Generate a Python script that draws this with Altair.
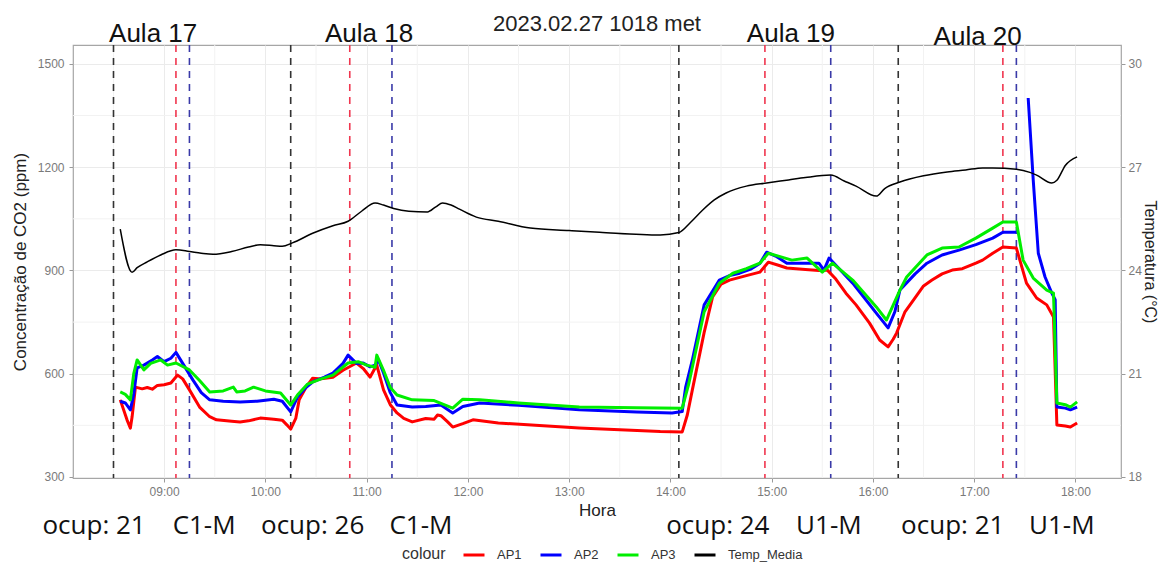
import altair as alt
import pandas as pd

DAY = "2023-02-27"

# ---------------- data ----------------
ap1_time = ["08:34","08:38","08:40","08:41","08:43","08:47","08:50","08:53","08:56","09:00","09:04","09:08","09:11","09:15","09:21","09:27","09:31","09:40","09:45","09:50","09:57","10:05","10:10","10:13","10:15","10:18","10:20","10:24","10:28","10:33","10:40","10:46","10:54","10:58","11:02","11:06","11:10","11:14","11:18","11:22","11:27","11:35","11:40","11:42","11:44","11:48","11:51","11:57","12:03","12:18","12:40","13:06","13:30","13:54","14:07","14:10","14:13","14:20","14:25","14:30","14:35","14:45","14:53","14:58","15:04","15:09","15:20","15:28","15:33","15:38","15:44","15:50","15:58","16:04","16:09","16:12","16:14","16:19","16:24","16:30","16:35","16:41","16:47","16:53","17:01","17:05","17:11","17:17","17:25","17:31","17:37","17:43","17:47","17:49","17:54","17:57","18:01"]
ap1_ppm = [524,466,442,474,561,556,560,555,566,568,573,596,585,553,503,475,466,462,460,463,471,468,465,450,439,470,524,560,587,585,590,610,631,615,590,625,553,510,486,470,460,470,468,480,478,460,445,455,466,457,450,442,437,432,431,480,553,720,823,860,872,885,895,924,915,907,903,900,901,875,834,800,747,698,678,700,718,780,814,855,872,890,901,905,921,930,950,968,965,863,820,800,765,451,448,445,457]

ap2_time = ["08:34","08:37","08:40","08:42","08:44","08:48","08:53","08:56","09:00","09:04","09:07","09:11","09:17","09:22","09:27","09:35","09:45","09:55","10:05","10:10","10:15","10:19","10:24","10:28","10:35","10:40","10:46","10:49","10:54","10:58","11:02","11:05","11:07","11:10","11:14","11:18","11:27","11:35","11:44","11:51","11:57","12:07","12:30","13:06","13:40","14:01","14:07","14:09","14:13","14:20","14:29","14:35","14:41","14:48","14:53","14:57","15:03","15:09","15:20","15:28","15:31","15:34","15:40","15:48","15:55","16:02","16:09","16:13","16:16","16:25","16:32","16:41","16:51","17:01","17:11","17:17","17:25"]
ap2_ppm = [520,515,495,540,617,625,640,650,635,645,662,630,582,545,524,520,518,520,526,520,489,532,560,576,590,602,630,654,630,631,620,625,640,602,545,509,503,505,509,486,505,515,508,495,489,486,490,560,640,800,872,885,892,905,920,953,940,921,921,921,901,936,905,863,820,776,733,780,843,890,921,945,959,975,994,1011,1011]
# AP2 restarts after a gap at 17:32
ap2b_time = ["17:32","17:35","17:38","17:42","17:46","17:48","17:49","17:54","17:57","18:01"]
ap2b_ppm = [1401,1162,950,881,834,815,503,500,495,503]

ap3_time = ["08:34","08:37","08:40","08:42","08:44","08:48","08:52","08:58","09:02","09:07","09:15","09:21","09:27","09:35","09:41","09:43","09:48","09:53","10:00","10:09","10:15","10:19","10:25","10:33","10:40","10:49","10:55","11:00","11:05","11:06","11:10","11:14","11:18","11:27","11:40","11:51","11:57","12:07","12:30","13:06","13:40","14:07","14:11","14:20","14:29","14:37","14:45","14:53","14:58","15:05","15:12","15:21","15:30","15:36","15:48","16:02","16:08","16:16","16:20","16:32","16:41","16:51","17:01","17:11","17:17","17:25","17:29","17:35","17:43","17:47","17:49","17:54","17:57","18:01"]
ap3_ppm = [547,540,524,600,640,611,630,640,625,631,611,580,547,550,561,547,550,561,550,544,509,538,570,585,596,631,635,625,619,654,610,560,538,524,522,500,526,524,515,503,501,500,573,780,863,892,905,921,950,940,930,936,895,921,872,794,756,843,881,945,965,968,994,1023,1041,1041,930,878,843,834,515,510,503,518]

temp_time = ["08:34","08:41","08:44","08:50","08:58","09:07","09:15","09:22","09:29","09:40","09:50","09:57","10:05","10:10","10:16","10:28","10:40","10:49","10:57","11:05","11:10","11:16","11:25","11:36","11:41","11:45","11:50","11:55","12:05","12:18","12:37","13:00","13:18","13:54","14:05","14:12","14:19","14:26","14:33","14:45","14:57","15:10","15:20","15:35","15:43","15:50","16:02","16:07","16:16","16:30","16:44","16:55","17:05","17:11","17:25","17:33","17:37","17:46","17:49","17:54","18:01"]
temp_c = [25.2,23.95,24.08,24.25,24.45,24.6,24.55,24.5,24.47,24.55,24.68,24.75,24.72,24.7,24.8,25.08,25.3,25.43,25.72,25.96,25.9,25.8,25.72,25.7,25.85,25.96,25.9,25.78,25.55,25.43,25.23,25.16,25.11,25.03,25.1,25.4,25.75,26.05,26.25,26.45,26.54,26.63,26.7,26.77,26.6,26.45,26.16,26.38,26.57,26.75,26.86,26.92,26.98,26.98,26.94,26.85,26.77,26.54,26.62,27.05,27.3]

series_names = ["AP1", "AP2", "AP3", "Temp_Media"]
series_colors = ["#FF0000", "#0000FF", "#00EE00", "#000000"]
legend_title = "colour"

start_times = ["08:30", "10:15", "14:05", "16:15"]   # black dashed
peak_times = ["09:07", "10:50", "14:56", "17:17"]    # red dashed
end_times = ["09:15", "11:15", "15:35", "17:25"]     # blue dashed

aula_labels = ["Aula 17", "Aula 18", "Aula 19", "Aula 20"]
aula_times = ["08:53:30", "11:01:25", "15:11:25", "17:02:05"]

bottom_labels = ["ocup: 21", "C1-M", "ocup: 26", "C1-M", "ocup: 24", "U1-M", "ocup: 21", "U1-M"]
bottom_times = ["08:18:30", "09:23:42", "10:28:00", "11:32:12", "14:28:06", "15:33:54", "16:47:18", "17:51:54"]

title_text = "2023.02.27 1018 met"
half_hours = ["08:30", "09:30", "10:30", "11:30", "12:30", "13:30", "14:30", "15:30", "16:30", "17:30"]
minor_ppm = [450, 750, 1050, 1350]


def ts(t):
    return f"{DAY}T{t}:00" if len(t) == 5 else f"{DAY}T{t}"


def frame(times, vals, name, seg):
    return pd.DataFrame({"t": [ts(x) for x in times], "v": vals, "series": name, "seg": seg})


co2_df = pd.concat([
    frame(ap1_time, ap1_ppm, "AP1", 0),
    frame(ap2_time, ap2_ppm, "AP2", 0),
    frame(ap2b_time, ap2b_ppm, "AP2", 1),
    frame(ap3_time, ap3_ppm, "AP3", 0),
], ignore_index=True)
temp_df = pd.DataFrame({"t": [ts(x) for x in temp_time], "temp": temp_c, "series": "Temp_Media"})


def dt(h, m=0):
    return alt.DateTime(year=2023, month=2, date=27, hours=h, minutes=m)


W, H = 1048, 433
xscale = alt.Scale(domain=[dt(8, 6), dt(18, 27)])
X = alt.X("t:T", scale=xscale, title="Hora",
          axis=alt.Axis(values=[dt(h) for h in range(9, 19)], format="%H:%M",
                        labelPadding=4, titlePadding=5))
yscale = alt.Scale(domain=[297, 1555], nice=False, zero=False)
Y = alt.Y("v:Q", scale=yscale, title="Concentração de CO2 (ppm)",
          axis=alt.Axis(values=[300, 600, 900, 1200, 1500], format="d", labelPadding=5,
                        titlePadding=8))

legend = alt.Legend(orient="none", legendX=389, legendY=498, direction="horizontal",
                    title=None,
                    labelFontSize=13, labelFont="Liberation Sans", labelColor="#333333",
                    symbolType="stroke", symbolStrokeWidth=3, symbolSize=441,
                    columnPadding=12, labelOffset=11)
color_scale = alt.Scale(domain=series_names, range=series_colors)
C = alt.Color("series:N", scale=color_scale, legend=legend)

vgrid = alt.Chart(pd.DataFrame({"t": [ts(x) for x in half_hours]})).mark_rule(
    color="#F2F2F2", strokeWidth=1).encode(x=X)
hgrid = alt.Chart(pd.DataFrame({"v": minor_ppm})).mark_rule(
    color="#F2F2F2", strokeWidth=1).encode(y=Y)


def vrules(times, color):
    return alt.Chart(pd.DataFrame({"t": [ts(x) for x in times]})).mark_rule(
        color=color, strokeWidth=1.6, strokeDash=[7, 6]).encode(x=X)


lines = alt.Chart(co2_df).mark_line(strokeWidth=3, strokeJoin="round").encode(
    x=X, y=Y, color=C, detail="seg:N")

aula_df = pd.DataFrame({"t": [ts(x) for x in aula_times], "label": aula_labels})
aula_a = alt.Chart(aula_df).transform_filter(alt.datum.label != "Aula 20").mark_text(
    font="Liberation Sans", fontSize=26, color="#111111", baseline="alphabetic", align="center").encode(
    x=X, y=alt.value(-3), text="label:N")
aula_b = alt.Chart(aula_df).transform_filter(alt.datum.label == "Aula 20").mark_text(
    font="Liberation Sans", fontSize=26, color="#111111", baseline="alphabetic", align="center").encode(
    x=X, y=alt.value(0), text="label:N")

bottom_df = pd.DataFrame({"t": [ts(x) for x in bottom_times], "label": bottom_labels})
bottom = alt.Chart(bottom_df).mark_text(
    font="Open Sans", fontSize=26, color="#111111", baseline="alphabetic", align="center").encode(
    x=X, y=alt.value(489), text="label:N")

title = alt.Chart(pd.DataFrame({"label": [title_text]})).mark_text(
    font="Liberation Sans", fontSize=22, color="#222222", baseline="alphabetic", align="center").encode(
    x=alt.value(W / 2), y=alt.value(-14), text="label:N")

legend_label = alt.Chart(pd.DataFrame({"label": [legend_title]})).mark_text(
    font="Liberation Sans", fontSize=16, color="#333333", baseline="middle", align="left").encode(
    x=alt.value(329), y=alt.value(509), text="label:N")

co2_layer = alt.layer(vgrid, hgrid, vrules(start_times, "#333333"), vrules(peak_times, "#F0364F"),
                      vrules(end_times, "#3A3AA8"), lines, aula_a, aula_b, bottom, title, legend_label)

temp_line = alt.Chart(temp_df).mark_line(strokeWidth=1.5, interpolate="monotone").encode(
    x=X,
    y=alt.Y("temp:Q", scale=alt.Scale(domain=[17.97, 30.55], nice=False, zero=False),
            title="Temperatura (°C)",
            axis=alt.Axis(orient="right", values=[18, 21, 24, 27, 30], grid=False,
                          labelPadding=3, titlePadding=0, titleFontSize=16)),
    color=C)

chart = alt.layer(co2_layer, temp_line).resolve_scale(y="independent").properties(
    width=W, height=H,
    padding={"left": 65, "top": 37, "right": 39, "bottom": 84},
    autosize=alt.AutoSizeParams(type="none"),
    background="white",
).configure_view(stroke="#A6A6A6", strokeWidth=1.2).configure_axis(
    labelFont="Liberation Sans", labelFontSize=12, labelColor="#7A7A7A",
    titleFont="Liberation Sans", titleFontSize=17, titleColor="#222222", titleFontWeight="normal",
    tickColor="#9A9A9A", tickSize=4, domain=False, gridColor="#EBEBEB", gridWidth=1,
)

chart.save("out.html", embed_options={"renderer": "svg", "actions": False})
